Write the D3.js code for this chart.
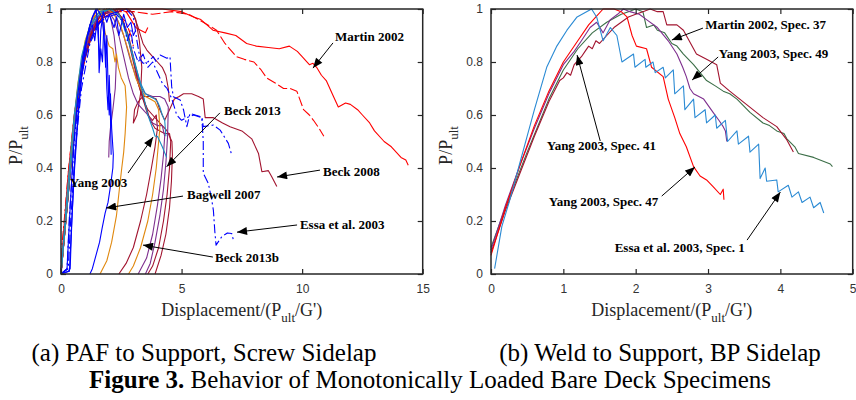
<!DOCTYPE html>
<html><head><meta charset="utf-8">
<script src="https://cdn.jsdelivr.net/npm/d3@7"></script>
<style>
body{margin:0;background:#fff;}
svg{display:block;}
.tick text{font-family:"Liberation Sans",Arial,sans-serif;font-size:12px;fill:#333;}
</style></head><body>
<svg id="chart" width="856" height="400"></svg>
<script>
// ---------------- data: tick values ----------------
const yTicks = [0, 0.2, 0.4, 0.6, 0.8, 1];
const leftXTicks = [0, 5, 10, 15];
const rightXTicks = [0, 1, 2, 3, 4, 5];

// ---------------- data: left panel (PAF to support, screw sidelap) ----------------
const martin2002a = [[0,0],[0.15,0.18],[0.35,0.4],[0.6,0.62],[0.9,0.8],[1.3,0.92],[1.8,0.98],[2.4,1.0],[3.2,1.0],[4.2,1.0],[5.0,0.99],[5.5,0.97],[5.8,0.96],[6.3,0.92],[6.8,0.91],[7.25,0.9],[7.7,0.87],[8.1,0.86],[8.6,0.855],[9.05,0.85],[9.47,0.86],[9.8,0.84],[10.0,0.82],[10.3,0.79],[10.45,0.795],[10.6,0.78],[10.8,0.75],[11.0,0.73],[11.3,0.67],[11.5,0.63],[11.8,0.645],[12.0,0.64],[12.3,0.62],[12.5,0.6],[12.8,0.57],[13.0,0.54],[13.4,0.5],[13.7,0.48],[14.1,0.44],[14.3,0.43],[14.4,0.41]];
const martin2002b = [[0,0],[0.2,0.22],[0.45,0.48],[0.75,0.7],[1.1,0.86],[1.6,0.96],[2.2,0.99],[3.0,0.99],[3.8,0.98],[4.6,0.99],[5.3,0.98],[5.9,0.95],[6.45,0.92],[6.8,0.87],[7.28,0.82],[7.6,0.81],[8.0,0.8],[8.3,0.77],[8.53,0.74],[8.9,0.72],[9.23,0.7],[9.5,0.7],[9.78,0.69],[9.9,0.66],[10.06,0.62],[10.3,0.6],[10.47,0.58],[10.7,0.55],[10.9,0.52]];
const red3 = [[0,0],[0.1,0.15],[0.3,0.38],[0.55,0.6],[0.85,0.78],[1.2,0.9],[1.6,0.97],[2.0,0.99],[2.4,1.0],[2.7,0.99],[2.9,0.96],[3.1,0.93],[3.3,0.92],[3.5,0.91],[3.6,0.93]];
const red4 = [[0,0],[0.05,0.12],[0.15,0.22],[0.3,0.38],[0.5,0.56],[0.7,0.7],[0.86,0.78],[1.05,0.88],[1.27,0.96],[1.6,0.99],[2.0,1.0],[2.4,0.98],[2.7,0.95],[2.9,0.9],[3.0,0.86]];
const beck2008 = [[0,0],[0.25,0.25],[0.55,0.55],[0.9,0.78],[1.3,0.91],[1.8,0.97],[2.3,0.99],[2.7,1.0],[2.95,0.99],[3.1,0.96],[3.25,0.88],[3.35,0.78],[3.3,0.68],[3.15,0.6],[3.0,0.57],[3.05,0.62],[3.2,0.65],[3.4,0.67],[3.7,0.67],[3.95,0.66],[4.1,0.62],[4.3,0.58],[4.5,0.62],[4.7,0.66],[4.9,0.67],[5.08,0.68],[5.42,0.68],[5.7,0.67],[5.9,0.66],[5.98,0.59],[6.32,0.59],[6.7,0.57],[7.01,0.556],[7.5,0.54],[7.91,0.51],[8.19,0.455],[8.33,0.386],[8.6,0.39],[8.74,0.367],[8.95,0.33]];
const maroon1 = [[0,0],[0.2,0.2],[0.5,0.52],[0.8,0.75],[1.1,0.88],[1.4,0.95],[1.8,0.99],[2.2,1.0],[2.5,0.97],[2.8,0.9],[3.0,0.82],[3.2,0.72],[3.4,0.66],[3.6,0.6],[3.8,0.58],[3.95,0.6],[4.0,0.55],[3.9,0.48],[3.75,0.4],[3.55,0.3],[3.3,0.2],[3.0,0.1],[2.7,0.04],[2.4,0]];
const maroon2 = [[0,0],[0.25,0.25],[0.55,0.55],[0.85,0.77],[1.2,0.9],[1.6,0.97],[2.0,1.0],[2.4,0.98],[2.7,0.92],[2.9,0.85],[3.1,0.78],[3.3,0.7],[3.5,0.64],[3.7,0.58],[3.9,0.55],[4.1,0.54],[4.3,0.53],[4.5,0.53],[4.55,0.5],[4.5,0.4],[4.4,0.3],[4.25,0.2],[4.05,0.1],[3.8,0.03],[3.6,0]];
const maroon3 = [[0,0],[0.2,0.2],[0.5,0.5],[0.8,0.73],[1.1,0.87],[1.5,0.96],[1.9,0.99],[2.3,1.0],[2.6,0.95],[2.8,0.88],[3.0,0.8],[3.2,0.72],[3.4,0.66],[3.6,0.62],[3.8,0.6],[4.0,0.58],[4.2,0.56],[4.4,0.54],[4.6,0.5],[4.62,0.45],[4.58,0.35],[4.5,0.25],[4.35,0.15],[4.15,0.07],[3.9,0]];
const maroon4 = [[0,0],[0.3,0.3],[0.6,0.6],[0.95,0.8],[1.35,0.92],[1.8,0.98],[2.3,1.0],[2.8,1.0],[3.0,0.98],[3.2,0.93],[3.4,0.87],[3.56,0.845],[3.8,0.82],[4.0,0.8],[4.2,0.78],[4.35,0.75],[4.45,0.7],[4.5,0.65]];
const purple1 = [[0,0],[0.25,0.27],[0.55,0.57],[0.85,0.78],[1.2,0.91],[1.6,0.98],[1.9,1.0],[2.3,0.97],[2.6,0.9],[2.9,0.8],[3.2,0.72],[3.5,0.68],[3.8,0.67],[4.1,0.67],[4.3,0.66],[4.45,0.63],[4.42,0.52],[4.35,0.42],[4.25,0.32],[4.1,0.22],[3.9,0.12],[3.7,0.04],[3.5,0]];
const purple2 = [[0,0],[0.2,0.22],[0.5,0.53],[0.8,0.76],[1.1,0.89],[1.5,0.97],[1.9,1.0],[2.2,0.96],[2.4,0.9],[2.6,0.82],[2.8,0.74],[3.0,0.68],[3.2,0.64],[3.4,0.62],[3.6,0.6],[3.8,0.57],[4.0,0.56],[4.2,0.56],[4.3,0.52],[4.25,0.45],[4.15,0.36],[4.0,0.26],[3.8,0.15],[3.55,0.06],[3.2,0]];
const purple3 = [[0,0],[0.2,0.22],[0.45,0.5],[0.7,0.7],[0.95,0.84],[1.2,0.93],[1.5,0.98],[1.8,1.0],[2.05,0.97],[2.2,0.9],[2.3,0.82],[2.25,0.7],[2.15,0.62],[2.05,0.55],[2.0,0.5],[1.98,0.44]];
const orange1 = [[0,0],[0.2,0.2],[0.45,0.48],[0.7,0.7],[0.95,0.85],[1.2,0.94],[1.45,0.99],[1.6,1.0],[1.75,0.96],[1.83,0.91],[2.0,0.86],[2.15,0.85],[2.24,0.8],[2.3,0.83],[2.38,0.78],[2.5,0.74],[2.66,0.71],[2.72,0.63],[2.66,0.53],[2.6,0.46],[2.52,0.4],[2.42,0.32],[2.3,0.22],[2.1,0.12],[1.9,0.05],[1.62,0]];
const orange2 = [[0,0],[0.2,0.22],[0.45,0.5],[0.7,0.72],[1.0,0.88],[1.3,0.96],[1.6,0.99],[1.9,1.0],[2.2,0.98],[2.5,0.93],[2.8,0.84],[3.1,0.74],[3.3,0.7],[3.5,0.67],[3.7,0.66],[3.9,0.65],[4.05,0.62],[4.1,0.55],[4.05,0.5],[3.95,0.4],[3.8,0.3],[3.6,0.2],[3.3,0.1],[3.0,0.03],[2.8,0]];
const teal1 = [[0,0],[0.3,0.3],[0.6,0.6],[0.9,0.82],[1.2,0.93],[1.6,0.98],[2.0,1.0],[2.4,0.98],[2.7,0.92],[3.0,0.82],[3.2,0.75],[3.4,0.68],[3.6,0.6],[3.8,0.55],[3.9,0.52],[4.0,0.52],[4.1,0.5],[4.2,0.48],[4.38,0.44]];
const teal2 = [[0,0],[0.25,0.3],[0.55,0.6],[0.85,0.82],[1.2,0.94],[1.6,0.99],[2.1,1.0],[2.5,0.96],[2.8,0.88],[3.1,0.78],[3.3,0.72],[3.5,0.68],[3.7,0.67],[3.9,0.66],[4.0,0.65],[4.1,0.63],[4.2,0.6],[4.3,0.58],[4.35,0.52]];
const essa2003a = [[0,0],[0.3,0.02],[0.4,0.2],[0.6,0.48],[0.85,0.7],[1.2,0.87],[1.6,0.95],[2.0,0.98],[2.4,0.99],[2.7,1.0],[2.9,0.98],[3.0,0.97],[3.15,0.88],[3.28,0.81],[3.41,0.795],[3.6,0.8],[3.83,0.82],[3.95,0.8],[4.11,0.826],[4.39,0.814],[4.52,0.82],[4.59,0.707],[4.66,0.669],[4.94,0.657],[5.08,0.62],[5.22,0.556],[5.35,0.606],[5.77,0.594],[5.84,0.594],[5.9,0.556],[6.32,0.562],[6.6,0.543],[6.94,0.493],[7.08,0.449]];
const essa2003b = [[0,0],[0.25,0.02],[0.35,0.22],[0.55,0.5],[0.8,0.72],[1.1,0.86],[1.5,0.94],[1.9,0.97],[2.3,0.98],[2.6,0.95],[2.75,0.88],[2.9,0.92],[3.0,0.85],[3.2,0.8],[3.4,0.83],[3.6,0.78],[3.8,0.8],[4.0,0.76],[4.2,0.72],[4.4,0.7],[4.6,0.66],[4.8,0.6],[5.0,0.58],[5.15,0.588],[5.5,0.6],[5.84,0.59],[5.9,0.5],[5.9,0.38],[6.11,0.342],[6.25,0.28],[6.32,0.24],[6.38,0.16],[6.43,0.109],[6.67,0.141],[6.9,0.155],[7.08,0.153],[7.15,0.128]];
const blue1 = [[0,0],[0.3,0.01],[0.38,0.02],[0.45,0.2],[0.55,0.4],[0.7,0.6],[0.9,0.78],[1.1,0.9],[1.3,0.97],[1.5,1.0],[1.7,0.97],[1.8,0.88],[1.85,0.78],[1.9,0.9],[1.95,0.72],[2.0,0.6],[2.05,0.68],[2.1,0.55],[2.17,0.45],[2.15,0.4],[2.05,0.33],[1.95,0.27],[1.83,0.23],[1.7,0.17],[1.6,0.12],[1.45,0.07],[1.3,0.02],[1.2,0]];
const blue2 = [[0,0],[0.25,0.02],[0.35,0.2],[0.5,0.45],[0.7,0.68],[0.9,0.82],[1.1,0.9],[1.3,0.94],[1.4,0.88],[1.5,0.96],[1.6,0.8],[1.65,0.92],[1.75,0.99],[1.9,0.95],[2.0,0.98],[2.2,0.93],[2.3,0.97],[2.4,0.9],[2.5,0.94],[2.6,0.98],[2.75,0.93],[2.9,0.95],[3.0,0.9],[3.1,0.92]];
const blue3 = [[0,0],[0.35,0.01],[0.42,0.15],[0.55,0.38],[0.7,0.58],[0.85,0.75],[1.0,0.86],[1.2,0.94],[1.35,0.98],[1.45,1.0],[1.55,0.93],[1.58,0.76],[1.65,0.85],[1.72,0.8],[1.78,0.95],[1.85,0.85],[1.9,0.7],[1.95,0.62],[2.0,0.75],[2.05,0.6],[2.08,0.45]];

// ---------------- data: right panel (weld to support, BP sidelap) ----------------
const essaSpec1 = [[0.05,0.02],[0.15,0.18],[0.25,0.27],[0.38,0.4],[0.5,0.52],[0.6,0.62],[0.77,0.78],[0.91,0.86],[1.05,0.92],[1.19,0.97],[1.39,1.0],[1.46,0.97],[1.55,0.88],[1.65,0.93],[1.74,0.9],[1.81,0.8],[1.97,0.83],[1.99,0.78],[2.13,0.81],[2.14,0.78],[2.24,0.8],[2.27,0.76],[2.38,0.78],[2.41,0.74],[2.52,0.77],[2.54,0.68],[2.66,0.71],[2.68,0.62],[2.8,0.66],[2.82,0.59],[2.96,0.62],[2.98,0.57],[3.1,0.6],[3.12,0.55],[3.24,0.58],[3.27,0.5],[3.4,0.54],[3.42,0.49],[3.56,0.52],[3.58,0.46],[3.7,0.49],[3.72,0.36],[3.79,0.4],[3.81,0.35],[3.95,0.355],[3.97,0.31],[4.11,0.335],[4.16,0.29],[4.25,0.31],[4.3,0.27],[4.41,0.29],[4.46,0.25],[4.55,0.27],[4.6,0.23]];
const yangSpec47 = [[0,0.07],[0.2,0.25],[0.4,0.41],[0.6,0.56],[0.8,0.69],[1.0,0.8],[1.2,0.88],[1.35,0.94],[1.45,0.97],[1.55,1.0],[1.7,1.0],[1.8,0.99],[1.88,0.97],[1.95,0.9],[2.01,0.86],[2.15,0.85],[2.22,0.78],[2.38,0.745],[2.45,0.66],[2.54,0.59],[2.61,0.53],[2.7,0.48],[2.8,0.405],[2.89,0.37],[2.98,0.355],[3.07,0.33],[3.17,0.3],[3.21,0.32],[3.22,0.28]];
const yangSpec49 = [[0,0.09],[0.2,0.26],[0.4,0.41],[0.6,0.55],[0.8,0.68],[1.0,0.79],[1.15,0.84],[1.25,0.88],[1.37,0.93],[1.46,0.95],[1.55,0.91],[1.65,0.96],[1.75,0.98],[1.83,1.0],[1.92,0.99],[2.05,0.98],[2.15,0.96],[2.3,0.93],[2.45,0.88],[2.57,0.83],[2.65,0.78],[2.7,0.745],[2.75,0.7],[2.8,0.68],[2.94,0.66],[3.07,0.61],[3.15,0.58],[3.21,0.556],[3.24,0.54],[3.26,0.5]];
const yangSpec41 = [[0,0.08],[0.2,0.24],[0.4,0.38],[0.6,0.52],[0.8,0.65],[0.95,0.73],[1.0,0.74],[1.05,0.76],[1.1,0.75],[1.15,0.79],[1.25,0.82],[1.3,0.84],[1.35,0.86],[1.4,0.85],[1.45,0.88],[1.5,0.87],[1.6,0.9],[1.7,0.93],[1.8,0.95],[1.9,0.97],[2.0,0.98],[2.1,0.99],[2.2,1.0],[2.3,0.99],[2.38,0.99],[2.43,0.94],[2.57,0.94],[2.66,0.92],[2.8,0.85],[2.84,0.83],[2.98,0.81],[3.12,0.79],[3.17,0.72],[3.3,0.69],[3.53,0.64],[3.76,0.59],[3.95,0.556],[4.09,0.506],[4.18,0.46]];
const martinSpec37 = [[0,0.1],[0.2,0.25],[0.5,0.46],[0.8,0.66],[1.0,0.77],[1.2,0.85],[1.4,0.91],[1.6,0.95],[1.8,0.98],[1.9,0.99],[2.0,1.0],[2.1,0.99],[2.15,0.93],[2.25,0.94],[2.3,0.92],[2.4,0.91],[2.5,0.87],[2.57,0.86],[2.66,0.83],[2.8,0.79],[2.98,0.73],[3.1,0.71],[3.21,0.69],[3.3,0.68],[3.4,0.66],[3.58,0.61],[3.76,0.57],[3.85,0.56],[3.95,0.54],[4.05,0.53],[4.09,0.51],[4.2,0.48],[4.25,0.455],[4.46,0.44],[4.69,0.415],[4.72,0.405]];

// ---------------- annotations (text, text anchor point, arrow tail, arrow head in data units) ----------------
const leftNotes = [
  {text:"Martin 2002", at:[11.36,0.879], from:[11.28,0.872], to:[10.45,0.777]},
  {text:"Beck 2013", at:[6.76,0.60], from:[6.59,0.608], to:[4.38,0.405]},
  {text:"Yang 2003", at:[0.37,0.328], from:[2.78,0.381], to:[3.82,0.517]},
  {text:"Bagwell 2007", at:[5.23,0.283], from:[5.06,0.294], to:[1.87,0.249]},
  {text:"Beck 2008", at:[10.87,0.37], from:[10.74,0.392], to:[8.96,0.366]},
  {text:"Essa et al. 2003", at:[9.91,0.17], from:[9.79,0.185], to:[7.3,0.158]},
  {text:"Beck 2013b", at:[6.39,0.045], from:[6.3,0.064], to:[3.4,0.109]}
];
const rightNotes = [
  {text:"Martin 2002, Spec. 37", at:[2.96,0.925], from:[2.93,0.928], to:[2.5,0.883]},
  {text:"Yang 2003, Spec. 49", at:[3.15,0.815], from:[3.14,0.819], to:[2.78,0.732]},
  {text:"Yang 2003, Spec. 41", at:[0.77,0.468], from:[1.51,0.502], to:[1.19,0.826]},
  {text:"Yang 2003, Spec. 47", at:[0.80,0.257], from:[2.36,0.294], to:[2.82,0.404]},
  {text:"Essa et al. 2003, Spec. 1", at:[1.71,0.083], from:[3.54,0.128], to:[4.0,0.309]}
];

// ---------------- drawing ----------------
const serif = "Liberation Serif";
const svg = d3.select("#chart");
svg.append("rect").attr("width",856).attr("height",400).attr("fill","#fff");
const defs = svg.append("defs");
defs.append("marker").attr("id","ah").attr("viewBox","0 0 10 8")
  .attr("refX",10).attr("refY",4).attr("markerWidth",11).attr("markerHeight",8)
  .attr("markerUnits","userSpaceOnUse").attr("orient","auto")
  .append("path").attr("d","M0,0 L10,4 L0,8 Z").attr("fill","#000");

const C = {red:"#ff0000", blue:"#0000ff", orange:"#e0880e", maroon:"#a2142f", purple:"#7e2f8e", teal:"#1a8cc2", lblue:"#2a8ad4", green:"#3b6e47"};
const DASH = "10,3", DASHDOT = "9,3,2,3";

const leftSeries = [
  {d:martin2002a, c:C.red}, {d:martin2002b, c:C.red, dash:DASH},
  {d:red3, c:C.red}, {d:red4, c:C.red, dash:DASHDOT},
  {d:beck2008, c:C.maroon}, {d:maroon4, c:C.maroon}, {d:maroon1, c:C.maroon}, {d:maroon2, c:C.maroon}, {d:maroon3, c:C.maroon},
  {d:purple1, c:C.purple}, {d:purple2, c:C.purple}, {d:purple3, c:C.purple},
  {d:orange1, c:C.orange}, {d:orange2, c:C.orange},
  {d:teal1, c:C.teal}, {d:teal2, c:C.teal},
  {d:essa2003a, c:C.blue, dash:DASHDOT}, {d:essa2003b, c:C.blue, dash:DASHDOT},
  {d:blue2, c:C.blue}, {d:blue3, c:C.blue}, {d:blue1, c:C.blue}
];
const rightSeries = [
  {d:martinSpec37, c:C.green}, {d:yangSpec41, c:C.maroon}, {d:yangSpec49, c:C.purple},
  {d:yangSpec47, c:C.red}, {d:essaSpec1, c:C.lblue}
];

function panel(x, y, xTicks, series, notes, labelX) {
  const g = svg.append("g");
  const [x0, x1] = x.range(), [y0, y1] = y.range();
  const line = d3.line().x(d => x(d[0])).y(d => y(d[1]));
  g.selectAll("path.s").data(series).join("path").attr("class","s")
    .attr("d", s => line(s.d)).attr("fill","none").attr("stroke", s => s.c)
    .attr("stroke-width",1.1).attr("stroke-linejoin","round")
    .attr("stroke-dasharray", s => s.dash || null);
  const fmt = d => String(d);
  const ax = (a) => a.tickSizeInner(-5).tickSizeOuter(0);
  g.append("g").attr("transform",`translate(0,${y0})`).call(ax(d3.axisBottom(x).tickValues(xTicks).tickFormat(fmt)).tickPadding(10));
  g.append("g").attr("transform",`translate(0,${y1})`).call(ax(d3.axisTop(x).tickValues(xTicks).tickFormat("")));
  g.append("g").attr("transform",`translate(${x0},0)`).call(ax(d3.axisLeft(y).tickValues(yTicks).tickFormat(fmt)).tickPadding(8));
  g.append("g").attr("transform",`translate(${x1},0)`).call(ax(d3.axisRight(y).tickValues(yTicks).tickFormat("")));
  g.selectAll(".domain").remove();
  g.selectAll(".tick line").attr("stroke","#262626").attr("stroke-width",1.2);
  g.append("rect").attr("x",x0).attr("y",y1).attr("width",x1-x0).attr("height",y0-y1)
    .attr("fill","none").attr("stroke","#262626").attr("stroke-width",1.5);
  notes.forEach(n => {
    g.append("line").attr("x1",x(n.from[0])).attr("y1",y(n.from[1]))
      .attr("x2",x(n.to[0])).attr("y2",y(n.to[1])).attr("stroke","#000").attr("stroke-width",1)
      .attr("marker-end","url(#ah)");
    g.append("text").attr("x",x(n.at[0])).attr("y",y(n.at[1])).text(n.text)
      .attr("font-family",serif).attr("font-weight","bold")
      .attr("font-size",13).attr("fill","#000");
  });
  const xl = g.append("text").attr("x",(x0+x1)/2).attr("y",316).attr("text-anchor","middle")
    .attr("font-family",serif).attr("font-size",18).attr("fill","#262626");
  xl.append("tspan").text("Displacement/(P");
  xl.append("tspan").text("ult").attr("font-size",13).attr("dy",6);
  xl.append("tspan").text("/G')").attr("dy",-6);
  const yl = g.append("text").attr("transform",`translate(${labelX},${(y0+y1)/2+4}) rotate(-90)`)
    .attr("text-anchor","middle").attr("font-family",serif).attr("font-size",18).attr("fill","#262626");
  yl.append("tspan").text("P/P");
  yl.append("tspan").text("ult").attr("font-size",13).attr("dy",6);
}

const y = d3.scaleLinear().domain([0,1]).range([274,9]);
panel(d3.scaleLinear().domain([0,15]).range([61,422.7]), y, leftXTicks, leftSeries, leftNotes, 22);
panel(d3.scaleLinear().domain([0,5]).range([491,852.7]), y, rightXTicks, rightSeries, rightNotes, 452);

svg.append("text").attr("x",204).attr("y",361).attr("text-anchor","middle").attr("font-family",serif)
  .attr("font-size",25).attr("fill","#000").text("(a) PAF to Support, Screw Sidelap");
svg.append("text").attr("x",660).attr("y",361).attr("text-anchor","middle").attr("font-family",serif)
  .attr("font-size",25).attr("fill","#000").text("(b) Weld to Support, BP Sidelap");
const fig = svg.append("text").attr("x",430).attr("y",388).attr("text-anchor","middle").attr("font-family",serif)
  .attr("font-size",25).attr("fill","#000");
fig.append("tspan").attr("font-weight","bold").text("Figure 3.");
fig.append("tspan").text(" Behavior of Monotonically Loaded Bare Deck Specimens");
</script>
</body></html>
